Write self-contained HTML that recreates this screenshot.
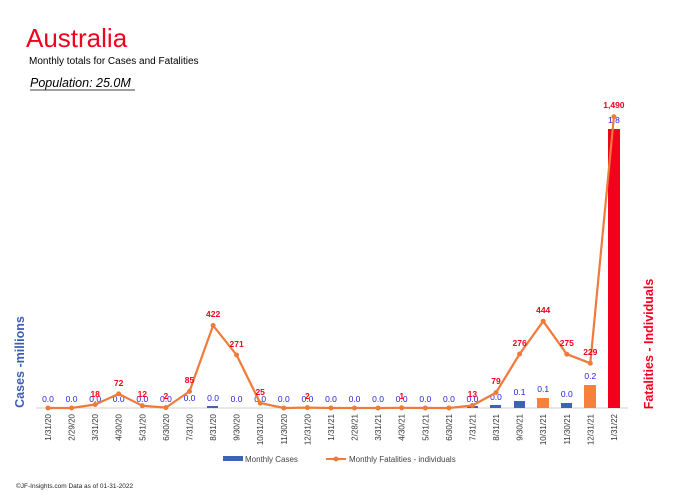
<!DOCTYPE html>
<html><head><meta charset="utf-8"><style>
body{margin:0;background:#fff;width:684px;height:496px;overflow:hidden}
svg{font-family:"Liberation Sans",sans-serif}
</style></head><body>
<svg width="684" height="496" viewBox="0 0 684 496" xmlns="http://www.w3.org/2000/svg">
<text x="26" y="47" font-size="26" fill="#f2001c">Australia</text>
<text x="29" y="64" font-size="10" fill="#000">Monthly totals for Cases and Fatalities</text>
<text x="30" y="87" font-size="12.5" font-style="italic" fill="#000">Population: 25.0M</text>
<line x1="30" y1="90" x2="135" y2="90" stroke="#000" stroke-width="0.8"/>
<text transform="translate(24,362) rotate(-90)" text-anchor="middle" font-size="12.5" font-weight="bold" fill="#3b5fb5">Cases -millions</text>
<text transform="translate(653,344) rotate(-90)" text-anchor="middle" font-size="12.5" font-weight="bold" fill="#f2001c">Fatalities - Individuals</text>
<line x1="36" y1="408" x2="628" y2="408" stroke="#d0d0d0" stroke-width="1"/>
<!-- bars -->
<g fill="#3b64b4">
<rect x="207" y="406" width="11" height="2"/>
<rect x="467" y="406" width="11" height="2"/>
<rect x="490" y="405" width="11" height="3"/>
<rect x="514" y="401" width="11" height="7"/>
<rect x="561" y="403" width="11" height="5"/>
</g>
<rect x="537" y="398" width="12" height="10" fill="#f6813a"/>
<rect x="584" y="385" width="12" height="23" fill="#f6813a"/>
<rect x="608" y="129" width="12" height="279" fill="#f2001c"/>
<!-- case labels -->
<g font-size="8.5" fill="#2222dd" text-anchor="middle">
<text x="48" y="402">0.0</text><text x="71.6" y="402">0.0</text><text x="95.2" y="402">0.0</text>
<text x="118.7" y="402">0.0</text><text x="142.3" y="402">0.0</text><text x="165.9" y="402">0.0</text>
<text x="189.5" y="401">0.0</text><text x="213.1" y="401">0.0</text><text x="236.6" y="402">0.0</text>
<text x="260.2" y="402">0.0</text><text x="283.8" y="402">0.0</text><text x="307.4" y="402">0.0</text>
<text x="331" y="402">0.0</text><text x="354.5" y="402">0.0</text><text x="378.1" y="402">0.0</text>
<text x="401.7" y="402">0.0</text><text x="425.3" y="402">0.0</text><text x="448.9" y="402">0.0</text>
<text x="472.4" y="402">0.0</text><text x="496" y="400">0.0</text><text x="519.6" y="395">0.1</text>
<text x="543.2" y="392">0.1</text><text x="566.8" y="397">0.0</text><text x="590.3" y="379">0.2</text><text x="613.9" y="123">1.8</text>
</g>
<!-- fatalities line -->
<polyline fill="none" stroke="#f07a3a" stroke-width="2.2" stroke-linejoin="round" points="48,408 71.6,408 95.2,404.5 118.7,393.9 142.3,405.7 165.9,407.6 189.5,391.4 213.1,325.5 236.6,355 260.2,403.1 283.8,408 307.4,407.6 331,408 354.5,408 378.1,408 401.7,407.8 425.3,408 448.9,408 472.4,405.5 496,392.6 519.6,354 543.2,321.2 566.8,354.2 590.3,363.2 613.9,116.7"/>
<g fill="#f07a3a">
<circle cx="48" cy="408" r="2.5"/><circle cx="71.6" cy="408" r="2.5"/><circle cx="95.2" cy="404.5" r="2.5"/><circle cx="118.7" cy="393.9" r="2.5"/><circle cx="142.3" cy="405.7" r="2.5"/><circle cx="165.9" cy="407.6" r="2.5"/><circle cx="189.5" cy="391.4" r="2.5"/><circle cx="213.1" cy="325.5" r="2.5"/><circle cx="236.6" cy="355" r="2.5"/><circle cx="260.2" cy="403.1" r="2.5"/><circle cx="283.8" cy="408" r="2.5"/><circle cx="307.4" cy="407.6" r="2.5"/><circle cx="331" cy="408" r="2.5"/><circle cx="354.5" cy="408" r="2.5"/><circle cx="378.1" cy="408" r="2.5"/><circle cx="401.7" cy="407.8" r="2.5"/><circle cx="425.3" cy="408" r="2.5"/><circle cx="448.9" cy="408" r="2.5"/><circle cx="472.4" cy="405.5" r="2.5"/><circle cx="496" cy="392.6" r="2.5"/><circle cx="519.6" cy="354" r="2.5"/><circle cx="543.2" cy="321.2" r="2.5"/><circle cx="566.8" cy="354.2" r="2.5"/><circle cx="590.3" cy="363.2" r="2.5"/><circle cx="613.9" cy="116.7" r="2.5"/>
</g>
<!-- fatality labels -->
<g font-size="8.5" font-weight="bold" fill="#f2001c" text-anchor="middle">
<text x="95.2" y="397">18</text><text x="118.7" y="386">72</text><text x="142.3" y="397">12</text>
<text x="165.9" y="399">2</text><text x="189.5" y="383">85</text><text x="213.1" y="317">422</text>
<text x="236.6" y="347">271</text><text x="260.2" y="395">25</text><text x="307.4" y="399">2</text>
<text x="401.7" y="399">1</text><text x="472.4" y="397">13</text><text x="496" y="384">79</text>
<text x="519.6" y="346">276</text><text x="543.2" y="313">444</text><text x="566.8" y="346">275</text>
<text x="590.3" y="355">229</text><text x="613.9" y="108">1,490</text>
</g>
<!-- x labels -->
<g font-size="8" fill="#333" text-anchor="end">
<text transform="translate(51,414) rotate(-90)">1/31/20</text>
<text transform="translate(74.6,414) rotate(-90)">2/29/20</text>
<text transform="translate(98.2,414) rotate(-90)">3/31/20</text>
<text transform="translate(121.7,414) rotate(-90)">4/30/20</text>
<text transform="translate(145.3,414) rotate(-90)">5/31/20</text>
<text transform="translate(168.9,414) rotate(-90)">6/30/20</text>
<text transform="translate(192.5,414) rotate(-90)">7/31/20</text>
<text transform="translate(216.1,414) rotate(-90)">8/31/20</text>
<text transform="translate(239.6,414) rotate(-90)">9/30/20</text>
<text transform="translate(263.2,414) rotate(-90)">10/31/20</text>
<text transform="translate(286.8,414) rotate(-90)">11/30/20</text>
<text transform="translate(310.4,414) rotate(-90)">12/31/20</text>
<text transform="translate(334,414) rotate(-90)">1/31/21</text>
<text transform="translate(357.5,414) rotate(-90)">2/28/21</text>
<text transform="translate(381.1,414) rotate(-90)">3/31/21</text>
<text transform="translate(404.7,414) rotate(-90)">4/30/21</text>
<text transform="translate(428.3,414) rotate(-90)">5/31/21</text>
<text transform="translate(451.9,414) rotate(-90)">6/30/21</text>
<text transform="translate(475.4,414) rotate(-90)">7/31/21</text>
<text transform="translate(499,414) rotate(-90)">8/31/21</text>
<text transform="translate(522.6,414) rotate(-90)">9/30/21</text>
<text transform="translate(546.2,414) rotate(-90)">10/31/21</text>
<text transform="translate(569.8,414) rotate(-90)">11/30/21</text>
<text transform="translate(593.3,414) rotate(-90)">12/31/21</text>
<text transform="translate(616.9,414) rotate(-90)">1/31/22</text>
</g>
<!-- legend -->
<rect x="223" y="456" width="20" height="5" fill="#3b64b4"/>
<text x="245" y="462" font-size="8" fill="#444">Monthly Cases</text>
<line x1="326" y1="459" x2="346" y2="459" stroke="#f07a3a" stroke-width="2"/>
<circle cx="336" cy="459" r="2.5" fill="#f07a3a"/>
<text x="349" y="462" font-size="8" fill="#444">Monthly Fatalities - individuals</text>
<text x="16" y="488" font-size="6.5" fill="#222">©JF-Insights.com  Data as of 01-31-2022</text>
</svg>
</body></html>
